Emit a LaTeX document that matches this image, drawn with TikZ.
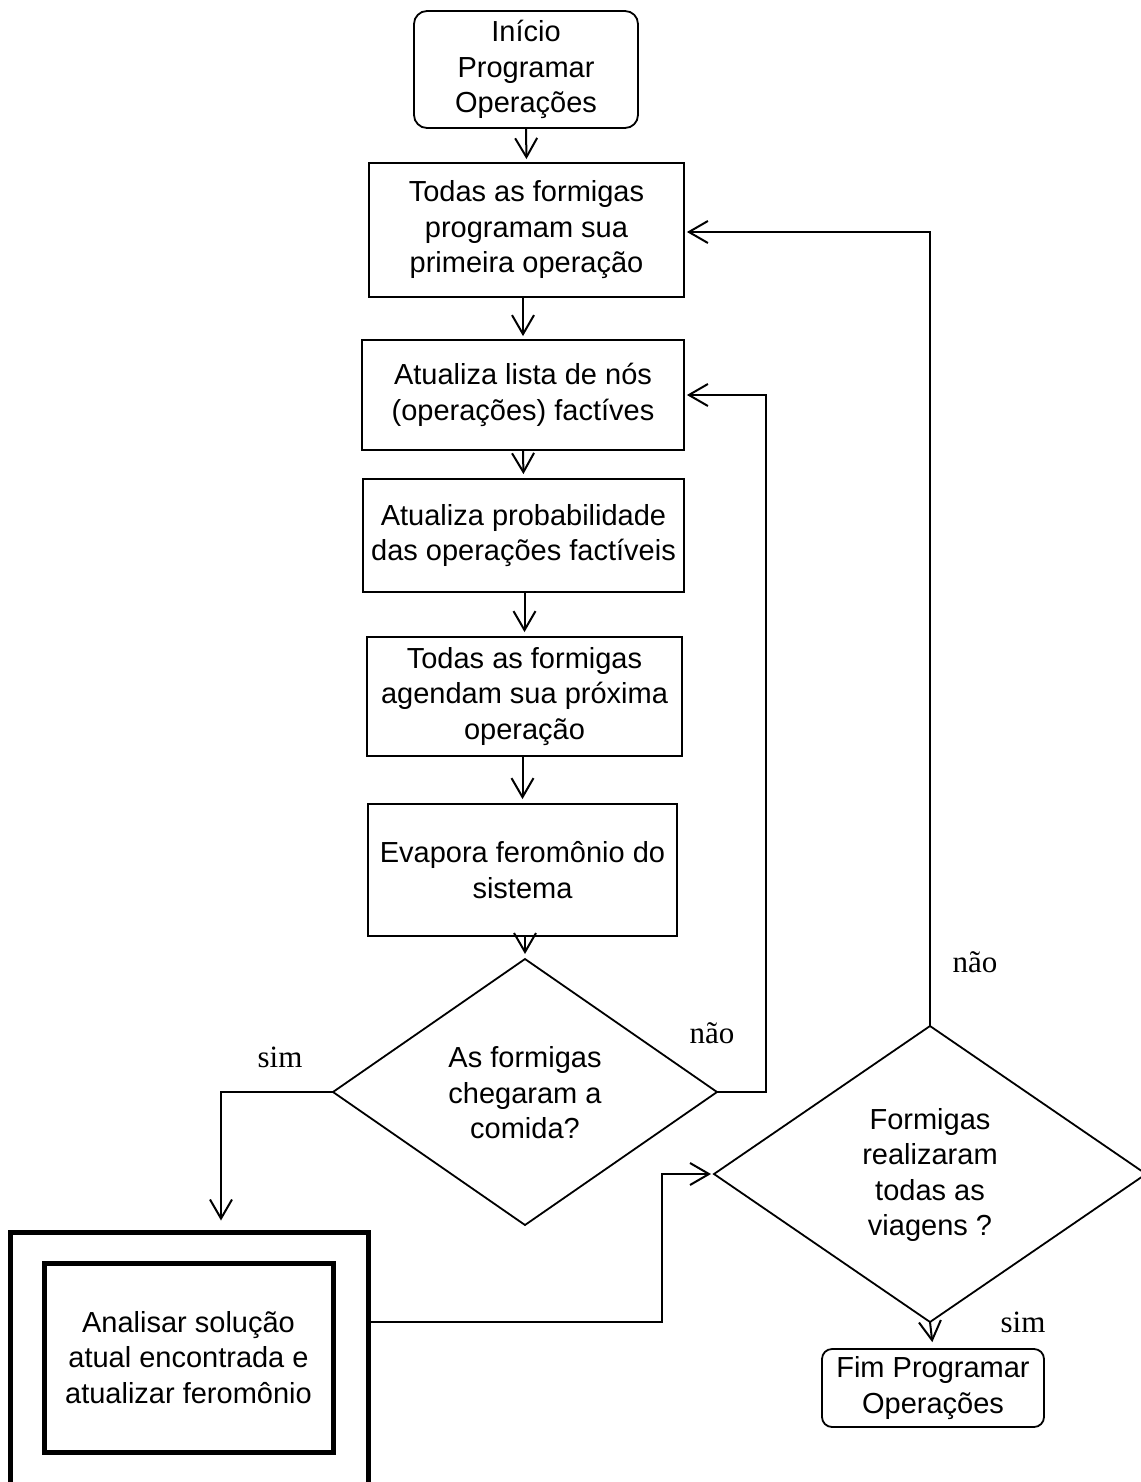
\documentclass[tikz,border=0pt]{standalone}
\usepackage{fontspec}
\setmainfont{Liberation Sans}
\newfontfamily\labelfont{Liberation Serif}
\usetikzlibrary{arrows.meta}

\begin{document}
\begin{tikzpicture}[x=1pt,y=-1pt,
  txt/.style={font=\fontsize{29}{35.5}\selectfont, align=center, inner sep=0pt},
  procbox/.style={txt, draw, line width=1.8pt},
  termbox/.style={procbox, rounded corners=13pt},
  diam/.style={draw, line width=1.8pt, line join=miter},
  flow/.style={line width=2pt, -{Straight Barb[length=19pt,width=22pt,line width=2pt]}},
  link/.style={line width=2pt},
  branch/.style={font=\labelfont\fontsize{31}{36}\selectfont, anchor=base, inner sep=0pt},
  thick frame/.style={draw, line width=5pt}]

\useasboundingbox (0,0) rectangle (1140,1482);

% terminal and process boxes
\node[termbox, minimum width=224pt, minimum height=117pt] (start) at (526,69.5)
  {Início\\Programar\\Operações};
\node[procbox, minimum width=315pt, minimum height=134pt] (b1) at (526.5,230)
  {Todas as formigas\\programam sua\\primeira operação};
\node[procbox, minimum width=322pt, minimum height=110pt] (b2) at (523,395)
  {Atualiza lista de nós\\(operações) factíves};
\node[procbox, minimum width=321pt, minimum height=113pt] (b3) at (523.5,535.5)
  {Atualiza probabilidade\\das operações factíveis};
\node[procbox, minimum width=315pt, minimum height=119pt] (b4) at (524.5,696.5)
  {Todas as formigas\\agendam sua próxima\\operação};
\node[procbox, minimum width=309pt, minimum height=132pt] (b5) at (522.5,870)
  {Evapora feromônio do\\sistema};

% first decision
\coordinate (d1n) at (525,959);
\coordinate (d1e) at (717,1092);
\coordinate (d1s) at (525,1225);
\coordinate (d1w) at (333,1092);
\draw[diam] (d1n) -- (d1e) -- (d1s) -- (d1w) -- cycle;
\node[txt] (d1) at (525,1093) {As formigas\\chegaram a\\comida?};

% second decision
\coordinate (d2n) at (930,1026);
\coordinate (d2e) at (1146,1174);
\coordinate (d2s) at (930,1322);
\coordinate (d2w) at (714,1174);
\draw[diam] (d2n) -- (d2e) -- (d2s) -- (d2w) -- cycle;
\node[txt] (d2) at (930,1175) {Formigas\\realizaram\\todas as\\viagens ?};

% analysis step in a double frame
\node[thick frame, minimum width=358pt, minimum height=255pt, inner sep=0pt] (outer) at (189,1359.5) {};
\node[thick frame, txt, minimum width=289pt, minimum height=189pt] (inner) at (188.5,1357.5)
  {Analisar solução\\atual encontrada e\\atualizar feromônio};

% end terminal
\node[termbox, minimum width=222pt, minimum height=78pt, rounded corners=10pt] (end) at (933,1388)
  {Fim Programar\\Operações};

% main vertical flow
\draw[flow, shorten >=3pt] (start.south) -- (b1.north);
\draw[flow, shorten >=3pt] (b1.south -| b2.north) -- (b2.north);
\draw[flow, shorten >=4pt] (b2.south) -- (b3.north);
\draw[flow, shorten >=4pt] (b3.south -| b4.north) -- (b4.north);
\draw[flow, shorten >=4pt] (b4.south -| b5.north) -- (b5.north);
\draw[flow, shorten >=5pt] (b5.south -| d1n) -- (d1n);

% "não" loop back to the list update
\coordinate (k1) at (766,1092);
\draw[flow, shorten >=2pt] (d1e) -- (k1) |- (b2.east);

% "sim" down to the analysis step
\coordinate (k2) at (221,1092);
\draw[flow, shorten >=9pt] (d1w) -- (k2) -- (k2 |- outer.north);

% analysis to the second decision
\coordinate (k3) at (662,1322);
\draw[flow, shorten >=3pt] (outer.east |- k3) -- (k3) |- (d2w);

% "não" loop back to the first scheduling step
\coordinate (k4) at (930,232);
\draw[flow, shorten >=2pt] (d2n) -- (k4) -- (b1.east |- k4);

% "sim" to the end terminal
\draw[flow, shorten >=6pt] (d2s) -- (end.north);

% branch labels
\node[branch] (l1) at (712,1043) {não};
\node[branch] (l2) at (280,1067) {sim};
\node[branch] (l3) at (975,972) {não};
\node[branch] (l4) at (1023,1332) {sim};
\end{tikzpicture}
\end{document}
